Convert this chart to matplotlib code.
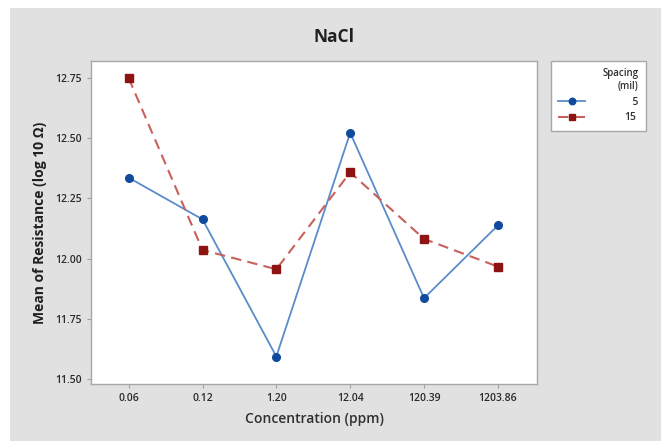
import matplotlib
matplotlib.use("Agg")
import matplotlib.pyplot as plt
from matplotlib.patches import Rectangle

categories = ["0.06", "0.12", "1.20", "12.04", "120.39", "1203.86"]
spacing_5 = [12.336, 12.163, 11.594, 12.522, 11.836, 12.138]
spacing_15 = [12.749, 12.036, 11.956, 12.358, 12.082, 11.967]
yticks = [11.50, 11.75, 12.00, 12.25, 12.50, 12.75]

plt.rcParams['font.family'] = ['Open Sans', 'DejaVu Sans']

W, H = 661, 441
fig = plt.figure(figsize=(W / 100, H / 100), dpi=100)
fig.patch.set_facecolor('white')
# gray panel background
fig.patches.append(Rectangle((10 / W, 0), 1 - 10 / W, 1 - 8 / H, transform=fig.transFigure,
                             facecolor='#e1e1e1', edgecolor='none', zorder=-10))

ax = fig.add_axes([91 / W, 1 - 384 / H, (537 - 91) / W, (384 - 61) / H])
ax.set_facecolor('white')
x = list(range(len(categories)))

l1, = ax.plot(x, spacing_5, color='#5a8ccb', lw=1.3, marker='o', markersize=5.5,
              markerfacecolor='#0f4a9c', markeredgecolor='#0f4a9c', label='5')
l2, = ax.plot(x, spacing_15, color='#c8605c', lw=1.5, ls=(0, (5, 3)), marker='s', markersize=5.5,
              markerfacecolor='#8e1313', markeredgecolor='#8e1313', label='15')

ax.set_xlim(-0.51, 5.53)
ax.set_ylim(11.48, 12.82)
ax.set_xticks(x)
ax.set_xticklabels(categories)
ax.set_yticks(yticks)
ax.set_yticklabels([f"{v:.2f}" for v in yticks])
ax.tick_params(axis='both', labelsize=7.5, colors='#a0a0a0', labelcolor='#2a2a2a', length=3, width=0.8)
for lab in ax.get_xticklabels() + ax.get_yticklabels():
    lab.set_fontweight('semibold')
for s in ax.spines.values():
    s.set_color('#a8a8a8')
    s.set_linewidth(1.0)

ax.set_xlabel("Concentration (ppm)", fontsize=10, fontweight='semibold', color='#303030', labelpad=6)
ax.set_ylabel("Mean of Resistance (log 10 Ω)", fontsize=10, fontweight='bold', color='#202020', labelpad=6)
fig.text(0.505, 1 - 37 / H, "NaCl", ha='center', va='center', fontsize=12.5, fontweight='bold', color='#202020')

leg = fig.legend([l1, l2], ["\u2007 5", "15"], title="Spacing\n(mil)", loc='upper left',
                 bbox_to_anchor=(551 / W, 1 - 61 / H), alignment='right', frameon=True,
                 fancybox=False, edgecolor='#a8a8a8', facecolor='white', framealpha=1,
                 fontsize=7.5, title_fontsize=7, handlelength=2.6, handletextpad=3.7,
                 borderpad=0.7, labelspacing=0.45, borderaxespad=0, markerscale=0.85)
leg.get_frame().set_linewidth(1.0)
for t in leg.get_texts():
    t.set_fontweight('semibold')
    t.set_color('#303030')
leg.get_title().set_color('#303030')
leg.get_title().set_fontweight('semibold')
leg.get_title().set_multialignment('right')

fig.savefig("out.png", dpi=100)
